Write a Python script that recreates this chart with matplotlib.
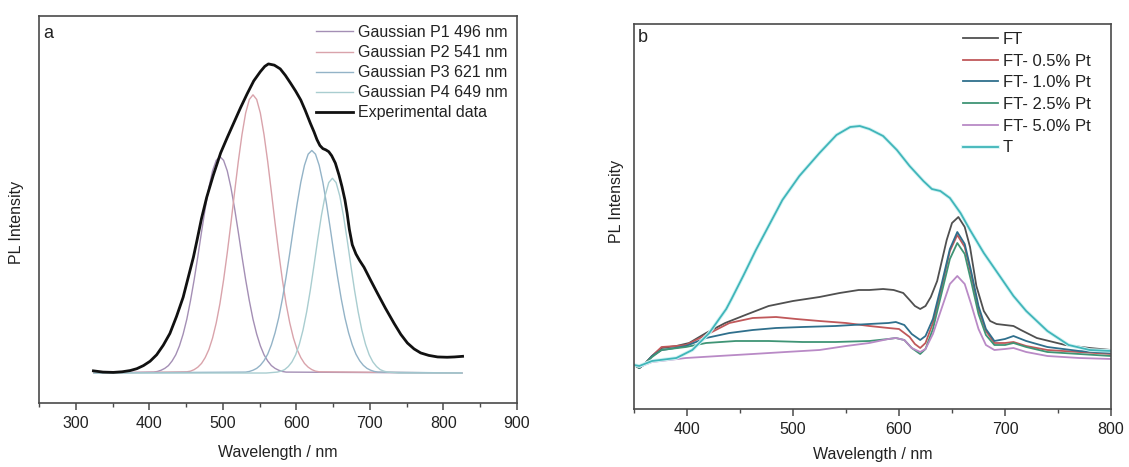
import matplotlib
matplotlib.use("Agg")
import matplotlib.pyplot as plt
import matplotlib.patheffects as pe
from matplotlib.ticker import MultipleLocator, NullLocator

plt.rcParams['font.family'] = ['Liberation Sans', 'DejaVu Sans']

# ---------------- Panel a data ----------------
gauss_offsets = [-90, -85, -80, -75, -70, -65, -60, -55, -50, -45, -40, -35, -30, -25, -20, -15, -10, -5, 0,
                 5, 10, 15, 20, 25, 30, 35, 40, 45, 50, 55, 60, 65, 70, 75, 80, 85, 90]
gauss_centers = [496, 541, 621, 649]
gauss_labels = ["Gaussian P1 496 nm", "Gaussian P2 541 nm", "Gaussian P3 621 nm", "Gaussian P4 649 nm"]
p1_vals = [0.003, 0.005, 0.009, 0.015, 0.024, 0.039, 0.059, 0.088, 0.126, 0.174, 0.234, 0.302, 0.377, 0.456,
           0.532, 0.600, 0.654, 0.688, 0.700, 0.688, 0.654, 0.600, 0.532, 0.456, 0.377, 0.302, 0.234, 0.174,
           0.126, 0.088, 0.059, 0.039, 0.024, 0.015, 0.009, 0.005, 0.003]
p2_vals = [0.004, 0.006, 0.011, 0.019, 0.031, 0.050, 0.076, 0.113, 0.162, 0.224, 0.301, 0.389, 0.485, 0.586,
           0.684, 0.771, 0.841, 0.885, 0.900, 0.885, 0.841, 0.771, 0.684, 0.586, 0.485, 0.389, 0.301, 0.224,
           0.162, 0.113, 0.076, 0.050, 0.031, 0.019, 0.011, 0.006, 0.004]
p3_vals = [0.003, 0.005, 0.009, 0.015, 0.025, 0.040, 0.061, 0.091, 0.130, 0.179, 0.240, 0.311, 0.388, 0.469,
           0.547, 0.617, 0.672, 0.708, 0.720, 0.708, 0.672, 0.617, 0.547, 0.469, 0.388, 0.311, 0.240, 0.179,
           0.130, 0.091, 0.061, 0.040, 0.025, 0.015, 0.009, 0.005, 0.003]
p4_vals = [0.000, 0.001, 0.002, 0.003, 0.006, 0.011, 0.021, 0.036, 0.059, 0.093, 0.139, 0.198, 0.269, 0.349,
           0.432, 0.509, 0.573, 0.616, 0.630, 0.616, 0.573, 0.509, 0.432, 0.349, 0.269, 0.198, 0.139, 0.093,
           0.059, 0.036, 0.021, 0.011, 0.006, 0.003, 0.002, 0.001, 0.000]
gauss_vals = [p1_vals, p2_vals, p3_vals, p4_vals]
gauss_range = [325, 825]

exp_wl = [324, 337, 351, 363, 374, 383, 392, 401, 410, 419, 428, 437, 446, 453, 460, 465, 471, 478, 487, 497,
          506, 515, 524, 533, 542, 551, 557, 562, 570, 578, 585, 592, 599, 606, 612, 619, 624, 628, 632, 636,
          640, 644, 648, 653, 658, 662, 666, 669, 672, 676, 681, 686, 692, 701, 710, 721, 733, 742, 751, 760,
          769, 780, 792, 805, 815, 826]
exp_val = [0.007, 0.003, 0.002, 0.004, 0.008, 0.014, 0.024, 0.038, 0.059, 0.090, 0.128, 0.183, 0.245, 0.310,
           0.375, 0.431, 0.500, 0.568, 0.640, 0.712, 0.762, 0.810, 0.858, 0.903, 0.945, 0.975, 0.992, 1.000,
           0.996, 0.984, 0.963, 0.938, 0.912, 0.883, 0.850, 0.808, 0.780, 0.755, 0.736, 0.726, 0.722, 0.716,
           0.703, 0.679, 0.640, 0.603, 0.560, 0.517, 0.465, 0.415, 0.385, 0.364, 0.342, 0.300, 0.259, 0.210,
           0.160, 0.125, 0.097, 0.078, 0.065, 0.057, 0.052, 0.051, 0.052, 0.054]

# ---------------- Panel b data ----------------
b_labels = ["FT", "FT- 0.5% Pt", "FT- 1.0% Pt", "FT- 2.5% Pt", "FT- 5.0% Pt", "T"]

ft_wl = [350, 355, 360, 367, 376, 390, 402, 418, 436, 455, 477, 500, 525, 544, 562, 572, 585, 595, 604, 610,
         615, 620, 625, 630, 636, 645, 650, 656, 662, 667, 673, 680, 686, 692, 700, 708, 715, 730, 757, 780, 800]
ft_val = [0.44, 0.41, 0.45, 0.53, 0.61, 0.63, 0.66, 0.76, 0.86, 0.94, 1.03, 1.08, 1.12, 1.16, 1.19, 1.19, 1.20,
          1.19, 1.16, 1.09, 1.03, 1.00, 1.03, 1.12, 1.28, 1.69, 1.86, 1.92, 1.82, 1.62, 1.23, 0.98, 0.88, 0.85,
          0.84, 0.83, 0.79, 0.71, 0.64, 0.61, 0.59]

pt05_wl = [350, 355, 360, 367, 376, 390, 399, 418, 440, 462, 484, 503, 525, 550, 572, 590, 600, 610, 615, 620,
           625, 632, 640, 648, 655, 662, 668, 675, 682, 690, 700, 708, 720, 740, 770, 800]
pt05_val = [0.44, 0.41, 0.45, 0.53, 0.62, 0.63, 0.64, 0.74, 0.86, 0.91, 0.92, 0.90, 0.88, 0.86, 0.83, 0.81,
            0.80, 0.72, 0.65, 0.61, 0.66, 0.86, 1.20, 1.58, 1.74, 1.62, 1.35, 1.00, 0.78, 0.66, 0.66, 0.67,
            0.63, 0.59, 0.57, 0.55]

pt10_wl = [350, 355, 360, 367, 376, 383, 399, 418, 440, 462, 484, 509, 540, 572, 590, 597, 605, 612, 620, 625,
           632, 640, 648, 655, 662, 668, 675, 682, 690, 700, 708, 720, 740, 770, 800]
pt10_val = [0.44, 0.41, 0.45, 0.53, 0.59, 0.60, 0.63, 0.71, 0.76, 0.79, 0.81, 0.82, 0.83, 0.85, 0.86, 0.87,
            0.84, 0.75, 0.69, 0.73, 0.90, 1.24, 1.60, 1.77, 1.65, 1.38, 1.03, 0.80, 0.68, 0.70, 0.73, 0.68,
            0.62, 0.58, 0.56]

pt25_wl = [350, 355, 360, 367, 376, 399, 418, 446, 477, 509, 540, 572, 590, 597, 605, 612, 620, 625, 632, 640,
           648, 655, 662, 668, 675, 682, 690, 700, 708, 720, 740, 770, 800]
pt25_val = [0.44, 0.41, 0.45, 0.52, 0.59, 0.62, 0.66, 0.68, 0.68, 0.67, 0.67, 0.68, 0.70, 0.71, 0.69, 0.61,
            0.55, 0.60, 0.80, 1.15, 1.50, 1.66, 1.55, 1.28, 0.95, 0.74, 0.64, 0.64, 0.66, 0.62, 0.57, 0.55, 0.53]

pt50_wl = [350, 355, 367, 399, 430, 462, 493, 525, 550, 572, 590, 597, 605, 612, 620, 625, 632, 640, 648, 655,
           662, 668, 675, 682, 690, 700, 708, 720, 740, 770, 800]
pt50_val = [0.44, 0.42, 0.47, 0.51, 0.53, 0.55, 0.57, 0.59, 0.63, 0.66, 0.70, 0.71, 0.69, 0.61, 0.57, 0.60,
            0.75, 1.00, 1.25, 1.33, 1.25, 1.05, 0.80, 0.64, 0.59, 0.60, 0.61, 0.57, 0.53, 0.51, 0.50]

t_wl = [350, 355, 367, 390, 405, 421, 437, 442, 453, 465, 475, 490, 506, 525, 541, 554, 563, 572, 585, 598,
        610, 623, 631, 639, 648, 658, 667, 680, 695, 708, 720, 740, 760, 780, 800]
t_val = [0.44, 0.43, 0.48, 0.51, 0.59, 0.76, 1.00, 1.10, 1.33, 1.59, 1.79, 2.09, 2.33, 2.56, 2.74, 2.82, 2.83,
         2.80, 2.73, 2.59, 2.43, 2.28, 2.20, 2.18, 2.11, 1.96, 1.79, 1.56, 1.33, 1.13, 0.98, 0.78, 0.64, 0.59, 0.58]

b_series = [(ft_wl, ft_val), (pt05_wl, pt05_val), (pt10_wl, pt10_val),
            (pt25_wl, pt25_val), (pt50_wl, pt50_val), (t_wl, t_val)]

# ---------------- Figure ----------------
W, H = 1129, 467
fig = plt.figure(figsize=(W / 100, H / 100), dpi=100)

def fax(l, t, r, b):
    return fig.add_axes([l / W, 1 - b / H, (r - l) / W, (b - t) / H])

axA = fax(39, 16, 517, 403)
axB = fax(634, 24, 1111, 409)

spine_c = "#4a4a4a"
for ax in (axA, axB):
    for s in ax.spines.values():
        s.set_color(spine_c)
        s.set_linewidth(1.2)
    ax.yaxis.set_major_locator(NullLocator())
    ax.tick_params(axis='x', which='major', direction='out', length=5, width=1.1, color=spine_c,
                   labelsize=11.5, labelcolor="#222222", pad=4)
    ax.tick_params(axis='x', which='minor', direction='out', length=3, width=1.0, color=spine_c)

# Panel a
g_colors = ["#a48fb5", "#d9a3ab", "#93b3c7", "#a9cdd0"]
for c, vals, col, lab in zip(gauss_centers, gauss_vals, g_colors, gauss_labels):
    wl = [gauss_range[0]] + [c + o for o in gauss_offsets] + [gauss_range[1]]
    vv = [0.0] + vals + [0.0]
    axA.plot(wl, vv, color=col, lw=1.0, label=lab)
axA.plot(exp_wl, exp_val, color="#111111", lw=2.0, label="Experimental data")
axA.set_xlim(250, 900)
axA.set_ylim(-0.097, 1.155)
axA.xaxis.set_major_locator(MultipleLocator(100))
axA.xaxis.set_minor_locator(MultipleLocator(50))
legA = axA.legend(loc='upper left', bbox_to_anchor=(316 / W, 1 - 25 / H), bbox_transform=fig.transFigure,
                  frameon=False, fontsize=11.5, handlelength=2.3, handletextpad=0.35, labelspacing=0.32,
                  borderpad=0, borderaxespad=0)
for t in legA.get_texts():
    t.set_color("#222222")
axA.text(43 / W, 1 - 33 / H, "a", transform=fig.transFigure, fontsize=13, va='center', ha='left', color="#222222")

# Panel b
b_colors = ["#505050", "#c0585a", "#2f6f8c", "#3f9475", "#b98ac6", "#40b5b9"]
for (wl, vv), col, lab in zip(b_series, b_colors, b_labels):
    if lab == "T":
        axB.plot(wl, vv, color=col, lw=1.3, label=lab,
                 path_effects=[pe.Stroke(linewidth=2.6, foreground="#d2f3f4"), pe.Normal()])
    else:
        axB.plot(wl, vv, color=col, lw=1.3, label=lab)
axB.set_xlim(350, 800)
axB.set_ylim(0, 3.85)
axB.xaxis.set_major_locator(MultipleLocator(100))
axB.xaxis.set_minor_locator(MultipleLocator(50))
legB = axB.legend(loc='upper left', bbox_to_anchor=(963 / W, 1 - 32 / H), bbox_transform=fig.transFigure,
                  frameon=False, fontsize=12, handlelength=2.1, handletextpad=0.3, labelspacing=0.4,
                  borderpad=0, borderaxespad=0)
for t in legB.get_texts():
    t.set_color("#222222")
axB.text(638 / W, 1 - 38 / H, "b", transform=fig.transFigure, fontsize=13, va='center', ha='left', color="#222222")

# Axis labels
fig.text(278 / W, 1 - 452 / H, "Wavelength / nm", ha='center', va='center', fontsize=11.5, color="#222222")
fig.text(873 / W, 1 - 455 / H, "Wavelength / nm", ha='center', va='center', fontsize=11.5, color="#222222")
fig.text(17 / W, 1 - 222 / H, "PL Intensity", ha='center', va='center', rotation=90, fontsize=11.5, color="#222222")
fig.text(617 / W, 1 - 201 / H, "PL Intensity", ha='center', va='center', rotation=90, fontsize=11.5, color="#222222")

fig.savefig("out.png", dpi=100, facecolor="white")
